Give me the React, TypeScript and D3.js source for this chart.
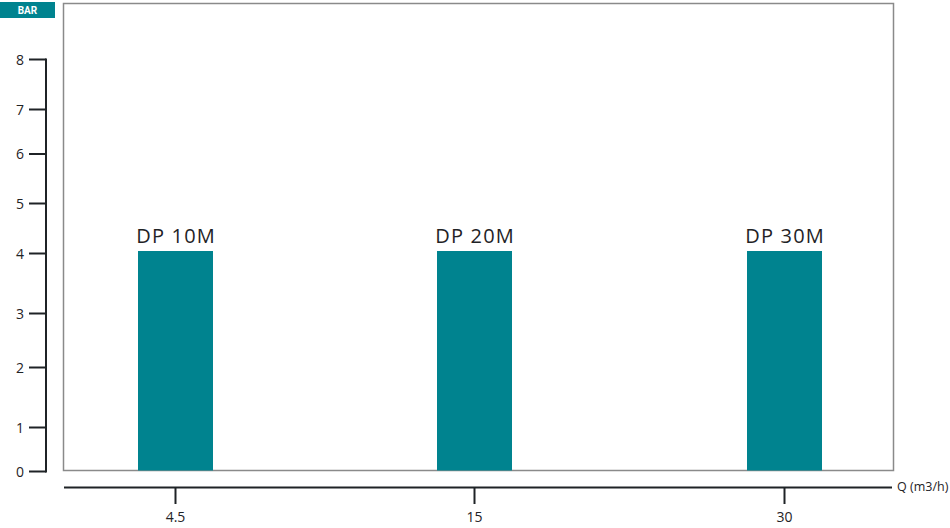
import React from "react";
import * as d3 from "d3";

const categories = ["DP 10M", "DP 20M", "DP 30M"];
const flows = [4.5, 15, 30];
const pressures = [4.05, 4.05, 4.05];
const yTicks = [0, 1, 2, 3, 4, 5, 6, 7, 8];
const xTickLabels = ["4.5", "15", "30"];

const W = 950;
const H = 528;
const TEAL = "#00838f";
const DARK = "#1f2326";

export default function App() {
  // y axis: tick positions are irregular in the reference, so piecewise scale
  const y = d3
    .scaleLinear()
    .domain(yTicks)
    .range([471.5, 427.5, 367.5, 313.5, 253.5, 203.5, 154, 109.5, 59.5]);
  const x = d3.scaleLinear().domain(flows).range([175.5, 474.5, 784.5]);
  const barW = 75;

  return (
    <svg
      width={W}
      height={H}
      style={{ position: "absolute", left: 0, top: 0, background: "#fff" }}
      fontFamily="'Open Sans', sans-serif"
    >
      {/* BAR badge */}
      <rect x={0} y={2} width={55} height={16} fill={TEAL} />
      <text
        x={27.5}
        y={14}
        textAnchor="middle"
        fill="#fff"
        fontSize={10}
        fontWeight={700}
        fontFamily="Roboto, sans-serif"
      >
        BAR
      </text>

      {/* plot frame */}
      <rect x={63.5} y={3.5} width={830} height={467} fill="none" stroke="#8a8a8a" strokeWidth={1.5} />

      {/* y axis */}
      <line x1={46} x2={46} y1={y(8) - 1} y2={y(0) + 1} stroke={DARK} strokeWidth={2} />
      {yTicks.map((t) => (
        <g key={t}>
          <line x1={29} x2={46} y1={y(t)} y2={y(t)} stroke={DARK} strokeWidth={2} />
          <text x={24} y={y(t)} dy="0.36em" textAnchor="end" fontSize={14} fill={DARK}>
            {t}
          </text>
        </g>
      ))}

      {/* bars */}
      {flows.map((f, i) => (
        <g key={categories[i]}>
          <rect
            x={x(f) - barW / 2}
            y={y(pressures[i])}
            width={barW}
            height={y(0) - 1 - y(pressures[i])}
            fill={TEAL}
          />
          <text
            x={x(f) + 0.6}
            y={y(pressures[i]) - 8}
            textAnchor="middle"
            fontSize={20}
            letterSpacing={1.2}
            fill={DARK}
            fontFamily="'Open Sans', sans-serif"
          >
            {categories[i]}
          </text>
        </g>
      ))}

      {/* x axis */}
      <line x1={64} x2={892} y1={487.5} y2={487.5} stroke={DARK} strokeWidth={2} />
      {flows.map((f, i) => (
        <g key={f}>
          <line x1={x(f)} x2={x(f)} y1={487.5} y2={504} stroke={DARK} strokeWidth={2} />
          <text x={x(f)} y={522} textAnchor="middle" fontSize={14} fill={DARK}>
            {xTickLabels[i]}
          </text>
        </g>
      ))}
      <text x={897} y={491} fontSize={12.5} fill={DARK}>
        Q (m3/h)
      </text>
    </svg>
  );
}
